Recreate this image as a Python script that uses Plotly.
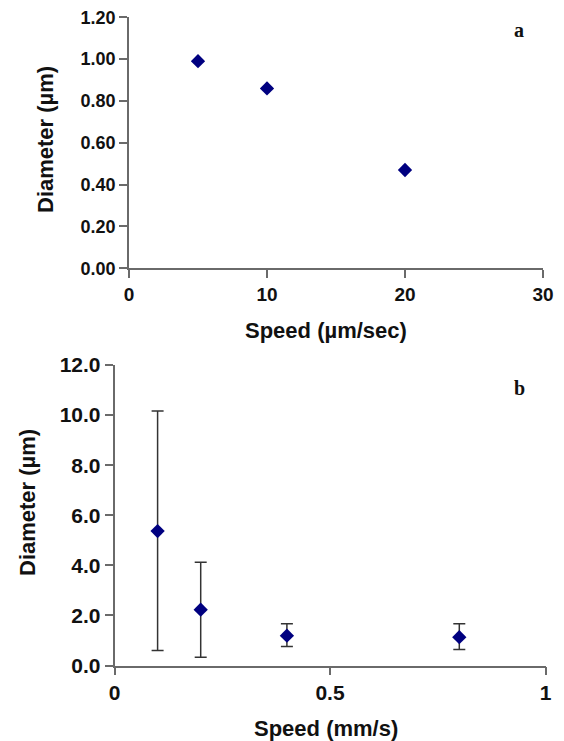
import plotly.graph_objects as go

# Panel a
speed_a = [5, 10, 20]
diam_a = [0.99, 0.86, 0.47]
ticks_a_x = [0, 10, 20, 30]
ticks_a_y = [0.0, 0.2, 0.4, 0.6, 0.8, 1.0, 1.2]

# Panel b
speed_b = [0.1, 0.2, 0.4, 0.8]
diam_b = [5.37, 2.23, 1.19, 1.13]
err_plus_b = [4.79, 1.89, 0.48, 0.54]
err_minus_b = [4.77, 1.90, 0.43, 0.49]
ticks_b_x = [0, 0.5, 1]
ticks_b_y = [0, 2, 4, 6, 8, 10, 12]

W, H = 564, 741
navy = "#000080"
axcol = "#6a6a6a"
font_fam = "Liberation Sans, Arial, sans-serif"

fig = go.Figure()
fig.add_trace(go.Scatter(
    x=speed_a, y=diam_a, mode="markers", xaxis="x", yaxis="y",
    marker=dict(symbol="diamond", size=11, color=navy), showlegend=False))
fig.add_trace(go.Scatter(
    x=speed_b, y=diam_b, mode="markers", xaxis="x2", yaxis="y2",
    marker=dict(symbol="diamond", size=11, color=navy),
    error_y=dict(type="data", symmetric=False, array=err_plus_b,
                 arrayminus=err_minus_b, color="#333333", thickness=1.5, width=6),
    showlegend=False))

def px(x):
    return x / W

def py(y):
    return 1 - y / H

common = dict(showgrid=False, zeroline=False, showline=True, linecolor=axcol,
              linewidth=1.5, ticks="outside", ticklen=8, tickwidth=1.5,
              tickcolor=axcol, automargin=False)

fig.update_layout(
    template="none",
    width=W, height=H, margin=dict(l=0, r=0, t=0, b=0, pad=0, autoexpand=False),
    paper_bgcolor="white", plot_bgcolor="white",
    xaxis=dict(domain=[px(129), px(543)], range=[0, 30], tickvals=ticks_a_x,
               anchor="y", tickfont=dict(family=font_fam, size=19, color="#111", weight=700),
               **common),
    yaxis=dict(domain=[py(268.3), py(17.3)], range=[0, 1.2], tickvals=ticks_a_y,
               tickformat=".2f", anchor="x",
               tickfont=dict(family=font_fam, size=18, color="#111", weight=700), **common),
    xaxis2=dict(domain=[px(114.5), px(545.5)], range=[0, 1], tickvals=ticks_b_x,
                ticktext=["0", "0.5", "1"], anchor="y2",
                tickfont=dict(family=font_fam, size=21, color="#111", weight=700), **common),
    yaxis2=dict(domain=[py(665.5), py(365)], range=[0, 12], tickvals=ticks_b_y,
                tickformat=".1f", anchor="x2",
                tickfont=dict(family=font_fam, size=21, color="#111", weight=700), **common),
)

title_font = dict(family=font_fam, size=22, color="#111", weight=700)
ann = [
    dict(text="Speed (µm/sec)", x=px(326), y=py(330), font=title_font),
    dict(text="Speed (mm/s)", x=px(326), y=py(728), font=title_font),
    dict(text="Diameter (µm)", x=px(45), y=py(140), textangle=-90, font=title_font),
    dict(text="Diameter (µm)", x=px(27), y=py(503), textangle=-90, font=title_font),
    dict(text="a", x=px(519), y=py(30), font=dict(family="Liberation Serif, Times New Roman, serif", size=20, color="#111", weight=700)),
    dict(text="b", x=px(519), y=py(388), font=dict(family="Liberation Serif, Times New Roman, serif", size=20, color="#111", weight=700)),
]
for a in ann:
    fig.add_annotation(xref="paper", yref="paper", showarrow=False,
                       xanchor="center", yanchor="middle", **a)

fig.write_html("out.html")
